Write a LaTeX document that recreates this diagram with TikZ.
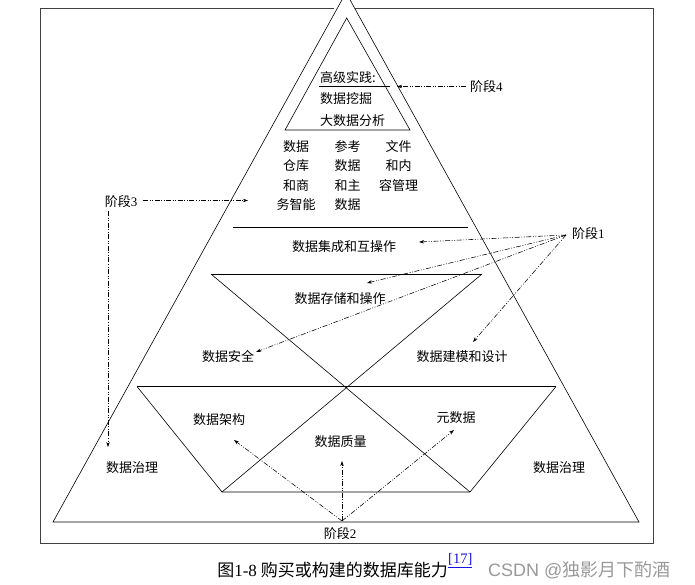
\documentclass[tikz,border=0pt]{standalone}
\usepackage{fontspec}
\setmainfont{Liberation Serif}
\newfontfamily\cjk{Noto Sans CJK SC}
\newfontfamily\wmfont{Liberation Sans}
\usetikzlibrary{arrows.meta}
\tikzset{
  lbl/.style={inner sep=0pt, font=\cjk\fontsize{13}{19.5}\selectfont, align=center},
  frameline/.style={draw=black!75, line width=0.9pt},
  pyr/.style={draw=black, line width=0.6pt},
  arr/.style={-{Stealth[length=5pt,width=3.4pt]}, line width=0.55pt,
    dash pattern=on 5pt off 1.6pt on 0.9pt off 1.6pt on 0.9pt off 1.6pt},
}
\begin{document}
\begin{tikzpicture}[x=1pt,y=-1pt]
\useasboundingbox (0,0) rectangle (695,585);
\fill[white] (0,0) rectangle (695,585);
% frame
\draw[frameline] (334,8.3) -- (40.3,8.3) -- (40.3,543) -- (653,543) -- (653,8.3) -- (355,8.3);
% outer triangle
\coordinate (apex) at (346,-7.4);
\coordinate (bl) at (53,522);
\coordinate (br) at (639,522);
\draw[pyr] (apex) -- (bl) -- (br) -- cycle;
% inner top triangle
\coordinate (ia) at (346.7,18);
\coordinate (il) at (285,130);
\coordinate (ir) at (410,130);
\draw[pyr] (ia) -- (il) -- (ir) -- cycle;
\coordinate (ul1) at (319,86.5);
\coordinate (ul2) at (390,86.5);
\draw[pyr] (ul1) -- (ul2);
% horizontal separator
\coordinate (s1) at (233,227.3);
\coordinate (s2) at (468,227.3);
\draw[pyr] (s1) -- (s2);
% middle inverted triangle and lower trapezoid
\coordinate (m1) at (211,274);
\coordinate (m2) at (482,274);
\coordinate (b1) at (222,492);
\coordinate (b2) at (470,492);
\coordinate (t1) at (137,386.5);
\coordinate (t2) at (556,386.5);
\draw[pyr] (m1) -- (m2);
\draw[pyr] (m1) -- (b2);
\draw[pyr] (m2) -- (b1);
\draw[pyr] (t1) -- (t2);
\draw[pyr] (t1) -- (b1) -- (b2) -- (t2);
% texts in the top triangle
\node[lbl, align=left, anchor=north west, font=\cjk\fontsize{13}{21.2}\selectfont] (top) at (320,71.5) {高级实践:\\数据挖掘\\大数据分析};
\node[lbl, anchor=north] (c1) at (296,140.2) {数据\\仓库\\和商\\务智能};
\node[lbl, anchor=north] (c2) at (347.5,140.2) {参考\\数据\\和主\\数据};
\node[lbl, anchor=north] (c3) at (398.5,140.2) {文件\\和内\\容管理};
\node[lbl] (integ) at (344,246.5) {数据集成和互操作};
\node[lbl] (store) at (340,298.5) {数据存储和操作};
\node[lbl] (sec) at (228,357) {数据安全};
\node[lbl] (model) at (462,357) {数据建模和设计};
\node[lbl] (arch) at (219,420) {数据架构};
\node[lbl] (qual) at (340.5,442) {数据质量};
\node[lbl] (meta) at (456,418) {元数据};
\node[lbl] (gl) at (132,468) {数据治理};
\node[lbl] (gr) at (559,468) {数据治理};
% stage labels
\node[lbl, anchor=west] (st4) at (470,86.5) {阶段{\rmfamily 4}};
\node[lbl, anchor=west] (st1) at (572,234) {阶段{\rmfamily 1}};
\node[lbl] (st3) at (121,202) {阶段{\rmfamily 3}};
\node[lbl] (st2) at (340,533.5) {阶段{\rmfamily 2}};
% stage 4 arrow
\coordinate (a4s) at (466,86.5);
\coordinate (a4e) at (397,86.5);
\draw[arr] (a4s) -- (a4e);
% stage 1 arrows
\coordinate (o1) at (566,235);
\coordinate (e11) at (419,242);
\coordinate (e12) at (367,283);
\coordinate (e13) at (256,352);
\coordinate (e14) at (473,342);
\draw[arr] (o1) -- (e11);
\draw[arr] (o1) -- (e12);
\draw[arr] (o1) -- (e13);
\draw[arr] (o1) -- (e14);
% stage 3 arrows
\coordinate (o3r) at (143,200.5);
\coordinate (e3r) at (248,200.5);
\coordinate (o3d) at (108,211);
\coordinate (e3d) at (108,447);
\draw[arr] (o3r) -- (e3r);
\draw[arr] (o3d) -- (e3d);
% stage 2 arrows
\coordinate (o2) at (342,521);
\coordinate (e21) at (234,440);
\coordinate (e22) at (342,461);
\coordinate (e23) at (454,430);
\draw[arr] (o2) -- (e21);
\draw[arr] (o2) -- (e22);
\draw[arr] (o2) -- (e23);
% caption
\node[inner sep=0pt, anchor=east, font=\cjk\fontsize{17}{20}\selectfont] (cap) at (448,570.5) {图{\rmfamily 1-8} 购买或构建的数据库能力};
\node[inner sep=0pt, anchor=west, font=\rmfamily\fontsize{14.5}{16}\selectfont, text={rgb,255:red,20;green,20;blue,230}] (ref) at (cap.east) [yshift=10pt] {\underline{[17]}};
\node[inner sep=0pt, anchor=west, text=black!40, font=\fontsize{18}{20}\selectfont] (wm) at (488,570.5) {{\wmfont CSDN @}{\cjk 独影月下酌酒}};
\end{tikzpicture}
\end{document}
